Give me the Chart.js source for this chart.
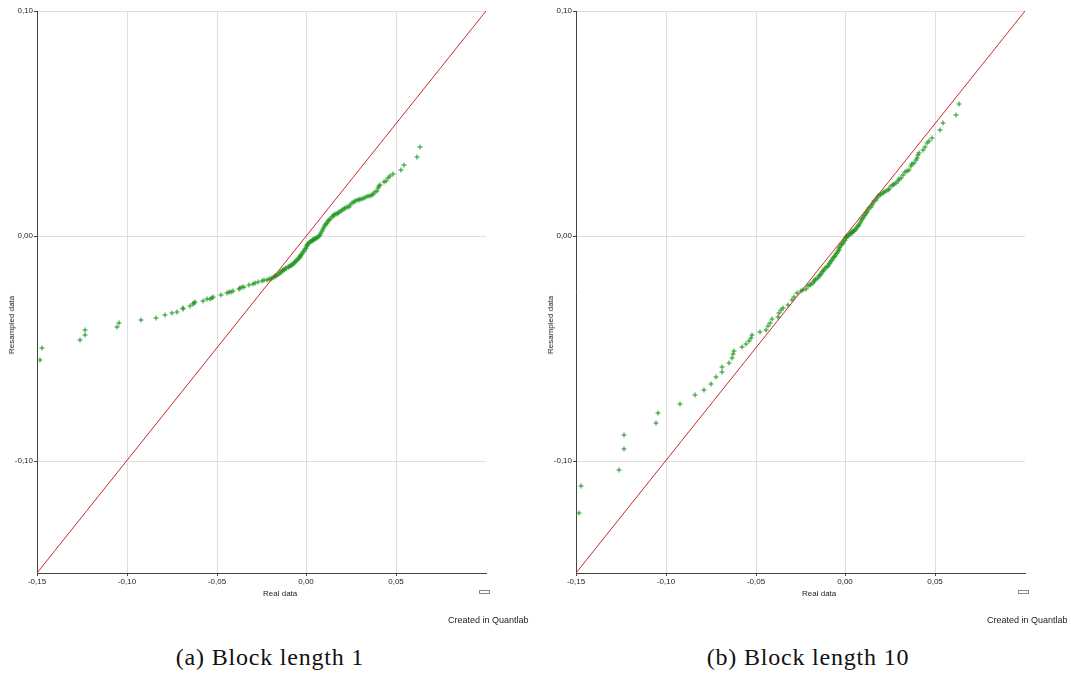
<!DOCTYPE html>
<html>
<head>
<meta charset="utf-8">
<title>QQ plots</title>
<script src="https://cdn.jsdelivr.net/npm/chart.js"></script>
<style>
  body {
    margin: 0;
    width: 1071px;
    height: 675px;
    position: relative;
    overflow: hidden;
    background: #ffffff;
    font-family: 'Liberation Sans', Arial, sans-serif;
    color: #222;
  }
  .panel { position: absolute; top: 0; width: 500px; height: 600px; }
  .note { position: absolute; font-size: 8px; line-height: 10px; white-space: nowrap; }
  .ylab { position: absolute; font-size: 8px; line-height: 10px; white-space: nowrap;
          transform: translate(-50%, -50%) rotate(-90deg); }
  .credit { position: absolute; font-size: 9px; line-height: 11px; white-space: nowrap; }
  .swatch { position: absolute; width: 9px; height: 2px; border: 1px solid #888; background: #fff; }
  .caption { position: absolute; top: 643px; font-family: 'Liberation Serif', serif; font-size: 24px;
             letter-spacing: 0.8px; line-height: 28px; white-space: nowrap;
             transform: translateX(-50%); color: #111; }
</style>
</head>
<body>
<div class="panel" style="left:0"><canvas id="chartA"></canvas></div>
<div class="panel" style="left:539px"><canvas id="chartB"></canvas></div>

<div class="ylab" style="left:12px; top:325px">Resampled data</div>
<div class="note" style="left:263px; top:589px">Real data</div>
<div class="swatch" style="left:479px; top:590px"></div>
<div class="credit" style="left:448px; top:615px">Created in Quantlab</div>
<div class="caption" style="left:270px">(a) Block length 1</div>

<div class="ylab" style="left:551px; top:325px">Resampled data</div>
<div class="note" style="left:802px; top:589px">Real data</div>
<div class="swatch" style="left:1018px; top:590px"></div>
<div class="credit" style="left:987px; top:615px">Created in Quantlab</div>
<div class="caption" style="left:808px">(b) Block length 10</div>

<script>
// sorted quantiles of the real returns (shared by both panels)
const realData = [
  -0.1483, -0.1472, -0.1263, -0.1234, -0.1230, -0.1053, -0.1041, -0.0920, -0.0835, -0.0788,
  -0.0747, -0.0722, -0.0689, -0.0688, -0.0647, -0.0631, -0.0624, -0.0619, -0.0574, -0.0551,
  -0.0536, -0.0526, -0.0518, -0.0474, -0.0441, -0.0432, -0.0422, -0.0410, -0.0376, -0.0368,
  -0.0360, -0.0350, -0.0321, -0.0300, -0.0287, -0.0268, -0.0250, -0.0235, -0.0222, -0.0210,
  -0.0198, -0.0190, -0.0183, -0.0176, -0.0169, -0.0162, -0.0155, -0.0149, -0.0142, -0.0136,
  -0.0129, -0.0123, -0.0117, -0.0111, -0.0105, -0.0099, -0.0093, -0.0087, -0.0081, -0.0076,
  -0.0070, -0.0065, -0.0059, -0.0054, -0.0049, -0.0043, -0.0038, -0.0033, -0.0028, -0.0023,
  -0.0018, -0.0013, -0.0008, -0.0004, 0.0001, 0.0005, 0.0010, 0.0015, 0.0019, 0.0024,
  0.0029, 0.0034, 0.0039, 0.0044, 0.0049, 0.0054, 0.0059, 0.0064, 0.0069, 0.0074,
  0.0080, 0.0085, 0.0091, 0.0096, 0.0102, 0.0108, 0.0114, 0.0120, 0.0127, 0.0133,
  0.0140, 0.0147, 0.0154, 0.0161, 0.0168, 0.0176, 0.0184, 0.0192, 0.0200,
  0.0208, 0.0217, 0.0226, 0.0235, 0.0245, 0.0254, 0.0263, 0.0272, 0.0282, 0.0291,
  0.0300, 0.0309, 0.0319, 0.0330, 0.0342, 0.0355, 0.0365, 0.0372, 0.0380, 0.0393,
  0.0398, 0.0404, 0.0410, 0.0433, 0.0445, 0.0457, 0.0468, 0.0480, 0.0526, 0.0541,
  0.0618, 0.0630
];

// resampled quantiles, block length 1
const resampledBlock1 = [
  -0.0551, -0.0498, -0.0462, -0.0440, -0.0419, -0.0404, -0.0390, -0.0376, -0.0364, -0.0354,
  -0.0344, -0.0338, -0.0326, -0.0321, -0.0313, -0.0304, -0.0300, -0.0296, -0.0290, -0.0283,
  -0.0279, -0.0275, -0.0272, -0.0264, -0.0256, -0.0252, -0.0248, -0.0245, -0.0235, -0.0232,
  -0.0229, -0.0226, -0.0221, -0.0214, -0.0211, -0.0206, -0.0202, -0.0198, -0.0195, -0.0193,
  -0.0190, -0.0187, -0.0184, -0.0180, -0.0177, -0.0173, -0.0170, -0.0166, -0.0162, -0.0158,
  -0.0154, -0.0150, -0.0146, -0.0143, -0.0140, -0.0138, -0.0135, -0.0132, -0.0128, -0.0124,
  -0.0120, -0.0117, -0.0112, -0.0108, -0.0104, -0.0099, -0.0095, -0.0090, -0.0085, -0.0081,
  -0.0074, -0.0067, -0.0060, -0.0054, -0.0047, -0.0042, -0.0035, -0.0031, -0.0028, -0.0025,
  -0.0022, -0.0020, -0.0018, -0.0016, -0.0013, -0.0011, -0.0008, -0.0004, 0.0000, 0.0005,
  0.0013, 0.0021, 0.0031, 0.0039, 0.0046, 0.0052, 0.0059, 0.0065, 0.0071, 0.0076,
  0.0082, 0.0088, 0.0092, 0.0096, 0.0099, 0.0103, 0.0107, 0.0111, 0.0115,
  0.0117, 0.0122, 0.0126, 0.0130, 0.0137, 0.0145, 0.0152, 0.0155, 0.0158, 0.0160,
  0.0162, 0.0164, 0.0167, 0.0171, 0.0175, 0.0179, 0.0182, 0.0186, 0.0193, 0.0200,
  0.0212, 0.0222, 0.0226, 0.0238, 0.0245, 0.0256, 0.0264, 0.0275, 0.0293, 0.0313,
  0.0350, 0.0396
];

// resampled quantiles, block length 10
const resampledBlock10 = [
  -0.1232, -0.1111, -0.1041, -0.0947, -0.0888, -0.0831, -0.0788, -0.0748, -0.0710, -0.0686,
  -0.0659, -0.0630, -0.0607, -0.0584, -0.0564, -0.0544, -0.0526, -0.0514, -0.0495, -0.0481,
  -0.0467, -0.0456, -0.0443, -0.0430, -0.0418, -0.0401, -0.0387, -0.0372, -0.0363, -0.0344,
  -0.0329, -0.0319, -0.0307, -0.0287, -0.0274, -0.0255, -0.0247, -0.0240, -0.0236, -0.0225,
  -0.0218, -0.0213, -0.0208, -0.0203, -0.0197, -0.0192, -0.0186, -0.0181, -0.0175, -0.0170,
  -0.0163, -0.0157, -0.0151, -0.0145, -0.0139, -0.0133, -0.0126, -0.0120, -0.0113, -0.0107,
  -0.0100, -0.0094, -0.0088, -0.0082, -0.0075, -0.0068, -0.0062, -0.0056, -0.0049, -0.0043,
  -0.0037, -0.0030, -0.0024, -0.0018, -0.0011, -0.0007, -0.0002, 0.0001, 0.0004, 0.0008,
  0.0011, 0.0014, 0.0017, 0.0020, 0.0023, 0.0026, 0.0031, 0.0037, 0.0044, 0.0050,
  0.0059, 0.0066, 0.0074, 0.0080, 0.0087, 0.0094, 0.0101, 0.0108, 0.0116, 0.0122,
  0.0130, 0.0138, 0.0146, 0.0153, 0.0161, 0.0168, 0.0175, 0.0181, 0.0187,
  0.0192, 0.0195, 0.0198, 0.0202, 0.0210, 0.0220, 0.0225, 0.0229, 0.0237, 0.0244,
  0.0252, 0.0259, 0.0270, 0.0283, 0.0289, 0.0292, 0.0311, 0.0320, 0.0326, 0.0337,
  0.0345, 0.0360, 0.0370, 0.0382, 0.0397, 0.0412, 0.0421, 0.0434, 0.0471, 0.0501,
  0.0536, 0.0585
];

const xTicks = [-0.15, -0.10, -0.05, 0.00, 0.05];
const yTicks = [-0.10, 0.00, 0.10];
const axisRange = [-0.15, 0.10];   // both axes
const diagonal = [-0.15, 0.10];    // y = x reference line ends

const fmt = v => v.toFixed(2).replace('.', ',');

function makeChart(id, resampled) {
  const points = realData.map((x, i) => ({ x: x, y: resampled[i] }));
  const ctx = document.getElementById(id).getContext('2d');
  return new Chart(ctx, {
    type: 'scatter',
    data: {
      datasets: [
        {
          type: 'line',
          data: diagonal.map(v => ({ x: v, y: v })),
          borderColor: '#cc2a2a',
          borderWidth: 1,
          pointRadius: 0,
          fill: false,
          order: 0
        },
        {
          data: points,
          pointStyle: 'cross',
          pointRadius: 2.5,
          borderWidth: 1,
          borderColor: '#1c951c',
          backgroundColor: '#1c951c',
          order: 1
        }
      ]
    },
    options: {
      responsive: true,
      maintainAspectRatio: false,
      animation: false,
      events: [],
      layout: { padding: { top: 11, right: 14, bottom: 0, left: 0 } },
      plugins: { legend: { display: false }, tooltip: { enabled: false } },
      scales: {
        x: {
          type: 'linear',
          min: axisRange[0],
          max: axisRange[1],
          alignToPixels: true,
          afterBuildTicks: s => { s.ticks = xTicks.map(v => ({ value: v })); },
          afterFit: s => { s.height = 27; },
          grid: { color: '#dedede', lineWidth: 1, tickColor: '#444', tickLength: 3 },
          border: { color: '#444', width: 1 },
          ticks: {
            autoSkip: false, maxRotation: 0, padding: 1,
            color: '#222', font: { family: 'Liberation Sans', size: 8 },
            callback: v => fmt(v)
          }
        },
        y: {
          type: 'linear',
          min: axisRange[0],
          max: axisRange[1],
          alignToPixels: true,
          afterBuildTicks: s => { s.ticks = yTicks.map(v => ({ value: v })); },
          afterFit: s => { s.width = 37; },
          grid: { color: '#dedede', lineWidth: 1, tickColor: '#444', tickLength: 3 },
          border: { color: '#444', width: 1 },
          ticks: {
            autoSkip: false, padding: 1,
            color: '#222', font: { family: 'Liberation Sans', size: 8 },
            callback: v => fmt(v)
          }
        }
      }
    }
  });
}

makeChart('chartA', resampledBlock1);
makeChart('chartB', resampledBlock10);
</script>
</body>
</html>
